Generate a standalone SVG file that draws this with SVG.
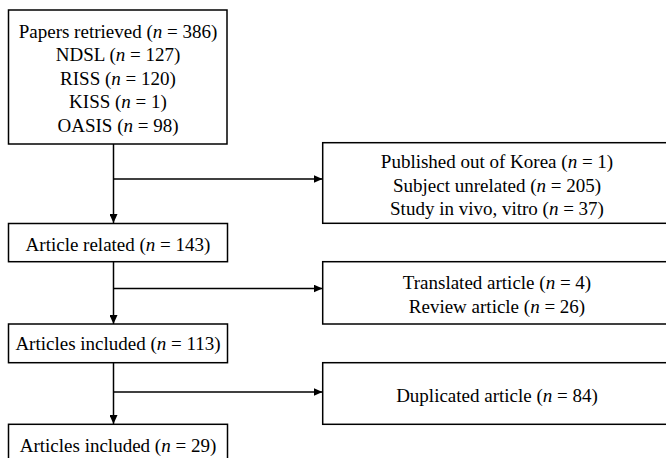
<svg xmlns="http://www.w3.org/2000/svg" width="666" height="458" viewBox="0 0 666 458">
<style>
.box{fill:#fff;stroke:#000;stroke-width:1.5}
.t{font-family:"Liberation Serif","Times New Roman",serif;font-size:19px;fill:#000;text-anchor:middle}
.ln{fill:none;stroke:#000;stroke-width:1.5}
</style>
<defs>
<marker id="ah" markerUnits="userSpaceOnUse" markerWidth="10" markerHeight="8" refX="9" refY="4" orient="auto">
<path d="M0,0 L9,4 L0,8 Z" fill="#000"/>
</marker>
</defs>
<rect width="666" height="458" fill="#fff"/>
<g id="connectors">
<line class="ln" x1="113.5" y1="144" x2="113.5" y2="223" marker-end="url(#ah)"/>
<line class="ln" x1="113.5" y1="179" x2="322.5" y2="179" marker-end="url(#ah)"/>
<line class="ln" x1="113.5" y1="262" x2="113.5" y2="324" marker-end="url(#ah)"/>
<line class="ln" x1="113.5" y1="288.5" x2="322.5" y2="288.5" marker-end="url(#ah)"/>
<line class="ln" x1="113.5" y1="363" x2="113.5" y2="424" marker-end="url(#ah)"/>
<line class="ln" x1="113.5" y1="392" x2="322.5" y2="392" marker-end="url(#ah)"/>
</g>
<g id="n1">
<rect class="box" x="8.5" y="10" width="218.5" height="134"/>
<text class="t" x="118" y="37.5">Papers retrieved (<tspan font-style="italic">n</tspan> = 386)</text>
<text class="t" x="118" y="61">NDSL (<tspan font-style="italic">n</tspan> = 127)</text>
<text class="t" x="118" y="84.5">RISS (<tspan font-style="italic">n</tspan> = 120)</text>
<text class="t" x="118" y="108">KISS (<tspan font-style="italic">n</tspan> = 1)</text>
<text class="t" x="118" y="131.5">OASIS (<tspan font-style="italic">n</tspan> = 98)</text>
</g>
<g id="n2">
<rect class="box" x="322.7" y="142.7" width="350" height="80.6"/>
<text class="t" x="497" y="167.5">Published out of Korea (<tspan font-style="italic">n</tspan> = 1)</text>
<text class="t" x="497" y="191.5">Subject unrelated (<tspan font-style="italic">n</tspan> = 205)</text>
<text class="t" x="497" y="215">Study in vivo, vitro (<tspan font-style="italic">n</tspan> = 37)</text>
</g>
<g id="n3">
<rect class="box" x="8.5" y="223.5" width="219" height="38.2"/>
<text class="t" x="118" y="251">Article related (<tspan font-style="italic">n</tspan> = 143)</text>
</g>
<g id="n4">
<rect class="box" x="322.7" y="261.7" width="350" height="62.3"/>
<text class="t" x="497" y="289.3">Translated article (<tspan font-style="italic">n</tspan> = 4)</text>
<text class="t" x="497" y="313.3">Review article (<tspan font-style="italic">n</tspan> = 26)</text>
</g>
<g id="n5">
<rect class="box" x="8.5" y="324" width="219" height="38.7"/>
<text class="t" x="118" y="349.5">Articles included (<tspan font-style="italic">n</tspan> = 113)</text>
</g>
<g id="n6">
<rect class="box" x="322.7" y="362.7" width="350" height="61.6"/>
<text class="t" x="497" y="401.5">Duplicated article (<tspan font-style="italic">n</tspan> = 84)</text>
</g>
<g id="n7">
<rect class="box" x="8.5" y="424.3" width="219" height="40"/>
<text class="t" x="118" y="451.7">Articles included (<tspan font-style="italic">n</tspan> = 29)</text>
</g>
</svg>
